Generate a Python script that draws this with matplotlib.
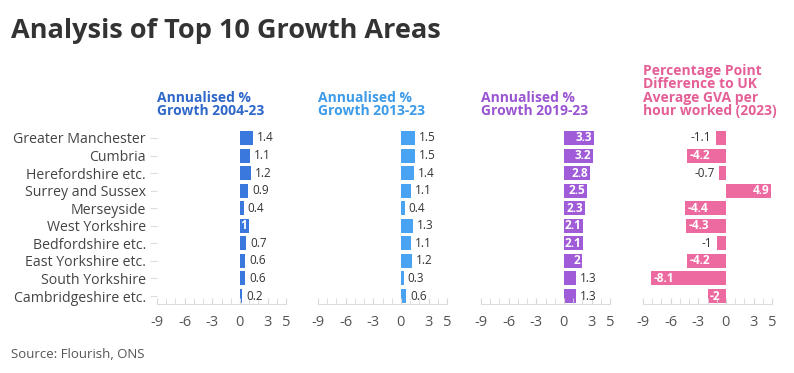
import matplotlib
matplotlib.use("Agg")
import matplotlib.pyplot as plt
import numpy as np

regions = ["Greater Manchester", "Cumbria", "Herefordshire etc.", "Surrey and Sussex",
           "Merseyside", "West Yorkshire", "Bedfordshire etc.", "East Yorkshire etc.",
           "South Yorkshire", "Cambridgeshire etc."]
growth_04_23 = [1.4, 1.1, 1.2, 0.9, 0.4, 1, 0.7, 0.6, 0.6, 0.2]
growth_13_23 = [1.5, 1.5, 1.4, 1.1, 0.4, 1.3, 1.1, 1.2, 0.3, 0.6]
growth_19_23 = [3.3, 3.2, 2.8, 2.5, 2.3, 2.1, 2.1, 2, 1.3, 1.3]
gva_diff_23 = [-1.1, -4.2, -0.7, 4.9, -4.4, -4.3, -1, -4.2, -8.1, -2]

panel_titles = ["Annualised %\nGrowth 2004-23", "Annualised %\nGrowth 2013-23",
                "Annualised %\nGrowth 2019-23",
                "Percentage Point\nDifference to UK\nAverage GVA per\nhour worked (2023)"]
bar_colors = ["#3b78de", "#4aa3f2", "#a05cd8", "#ec6a9f"]
title_colors = ["#2f68c9", "#3d9be8", "#9a55d2", "#e55f97"]
series = [growth_04_23, growth_13_23, growth_19_23, gva_diff_23]

plt.rcParams['font.family'] = ['Open Sans', 'DejaVu Sans']
plt.rcParams['axes.unicode_minus'] = False

W, H = 794, 373
fig = plt.figure(figsize=(W / 100, H / 100), dpi=100)

fig.text(11 / W, 1 - 31 / H, "Analysis of Top 10 Growth Areas", fontsize=19.5,
         fontweight='bold', color='#333333', va='center', ha='left')
fig.text(11 / W, 1 - 354 / H, "Source: Flourish, ONS", fontsize=9.5,
         color='#555555', va='center', ha='left')

lefts = [157, 318, 481, 643]
pw = 129
top, bottom = 128, 304
px_unit = pw / 14.0
renderer = fig.canvas.get_renderer()

for i in range(4):
    ax = fig.add_axes([lefts[i] / W, 1 - bottom / H, pw / W, (bottom - top) / H])
    vals = series[i]
    y = np.arange(len(regions))
    ax.barh(y, vals, height=0.8, color=bar_colors[i])
    ax.set_xlim(-9, 5)
    ax.set_ylim(9 + 8 / 17.56, -10 / 17.56)
    for s in ['top', 'right', 'left']:
        ax.spines[s].set_visible(False)
    ax.spines['bottom'].set_color('#dddddd')
    ax.set_xticks([-9, -6, -3, 0, 3, 5])
    ax.set_xticks(np.arange(-9, 6), minor=True)
    ax.tick_params(axis='x', which='both', direction='in', length=4, color='#d8d8d8',
                   labelsize=10.5, labelcolor='#555555', pad=8)
    if i == 0:
        ax.set_yticks(y)
        ax.set_yticklabels(regions, fontsize=10.2, color='#444444')
        ax.tick_params(axis='y', length=5, color='#dddddd', pad=3)
    else:
        ax.set_yticks([])
    ax.text(0, 1.055, panel_titles[i], transform=ax.transAxes,
            ha='left', va='bottom', fontsize=10, fontweight='bold',
            color=title_colors[i], linespacing=0.95)

    for yy, v in zip(y, vals):
        lab = f"{v:g}"
        t = ax.text(0, 0, lab, fontsize=8.5, fontweight='bold')
        tw = t.get_window_extent(renderer).width
        t.remove()
        barw = abs(v) * px_unit
        if tw + 1 <= barw:
            off = -1.5 if v > 0 else 1.5
            ax.annotate(lab, (v, yy), xytext=(off, 0), textcoords='offset points',
                        ha='right' if v > 0 else 'left', va='center', fontsize=8.5,
                        color='white', fontweight='bold')
        else:
            off = 3 if v > 0 else -3
            ax.annotate(lab, (v, yy), xytext=(off, 0), textcoords='offset points',
                        ha='left' if v > 0 else 'right', va='center', fontsize=8.5,
                        color='#333333')

fig.savefig("out.png", dpi=100)
